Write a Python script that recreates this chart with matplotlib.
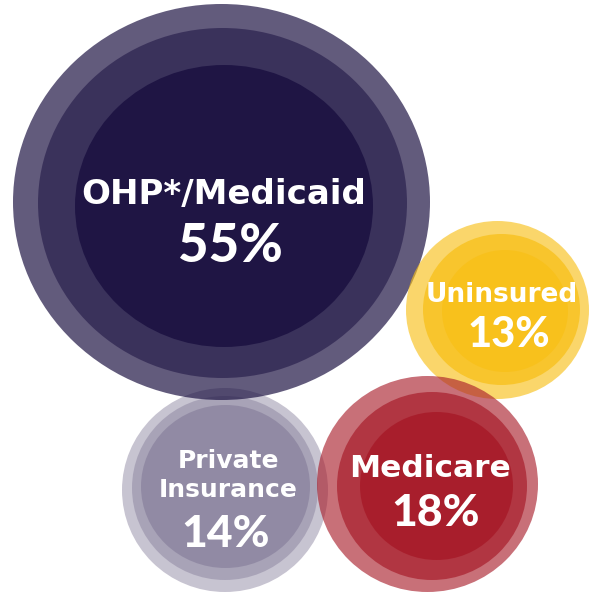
import matplotlib
matplotlib.use("Agg")
import matplotlib.pyplot as plt
from matplotlib.patches import Ellipse

# ---- data ----
categories = ["OHP*/Medicaid", "Uninsured", "Medicare", "Private\nInsurance"]
values = [55, 13, 18, 14]

# ---- layout (pixel space of the 593x592 image) ----
# rings: (cx, cy, rx, ry) outer -> inner
rings = {
    "OHP*/Medicaid": [(221.5, 202, 208.5, 198), (222.5, 203, 184.5, 175), (224, 206, 149, 141)],
    "Uninsured": [(497.5, 310, 91.5, 89), (501.5, 309.5, 78.5, 75.5), (505, 311, 63, 61)],
    "Medicare": [(427.5, 484, 110.5, 108), (432, 486, 95, 94), (436.5, 486, 76.5, 74)],
    "Private\nInsurance": [(225, 490, 103, 102), (225, 488, 93, 92), (225.5, 486.5, 84.5, 81.5)],
}
base_colors = {
    "OHP*/Medicaid": (28, 18, 66),
    "Uninsured": (248, 192, 24),
    "Medicare": (168, 28, 42),
    "Private\nInsurance": (110, 100, 135),
}
ring_alphas = {
    "OHP*/Medicaid": [0.69, 0.56, 0.9],
    "Uninsured": [0.64, 0.75, 0.8],
    "Medicare": [0.63, 0.69, 0.9],
    "Private\nInsurance": [0.38, 0.34, 0.39],
}
draw_order = ["Private\nInsurance", "OHP*/Medicaid", "Uninsured", "Medicare"]

# text: (x, name baseline y, name size, value x, value baseline, value size)
text_layout = {
    "OHP*/Medicaid": (223.5, 204, 24.5, 230, 262, 38),
    "Uninsured": (502, 302, 19, 509, 347, 30),
    "Medicare": (430, 477, 22.5, 436, 526, 32),
    "Private\nInsurance": (228, 497, 18, 226, 547, 32),
}

fig = plt.figure(figsize=(5.93, 5.92), dpi=100)
ax = fig.add_axes([0, 0, 1, 1])
ax.set_xlim(0, 593)
ax.set_ylim(592, 0)
ax.axis("off")

z = 1
for cat in draw_order:
    col = tuple(c / 255 for c in base_colors[cat])
    for (cx, cy, rx, ry), a in zip(rings[cat], ring_alphas[cat]):
        ax.add_patch(Ellipse((cx, cy), 2 * rx, 2 * ry, facecolor=col, alpha=a,
                             edgecolor="none", zorder=z))
        z += 1

name_font = "DejaVu Sans"
value_font = "Lato"
for cat, val in zip(categories, values):
    x, yb, s, vx, vyb, vs = text_layout[cat]
    lines = cat.split("\n")
    line_h = 29
    for i, line in enumerate(lines):
        yy = yb - (len(lines) - 1 - i) * line_h
        ax.text(x, yy, line, ha="center", va="baseline", color="white",
                fontsize=s, fontweight="bold", family=name_font, zorder=100)
    ax.text(vx, vyb, f"{val}%", ha="center", va="baseline", color="white",
            fontsize=vs, fontweight="black", family=value_font, zorder=100)

fig.savefig("out.png", dpi=100)
